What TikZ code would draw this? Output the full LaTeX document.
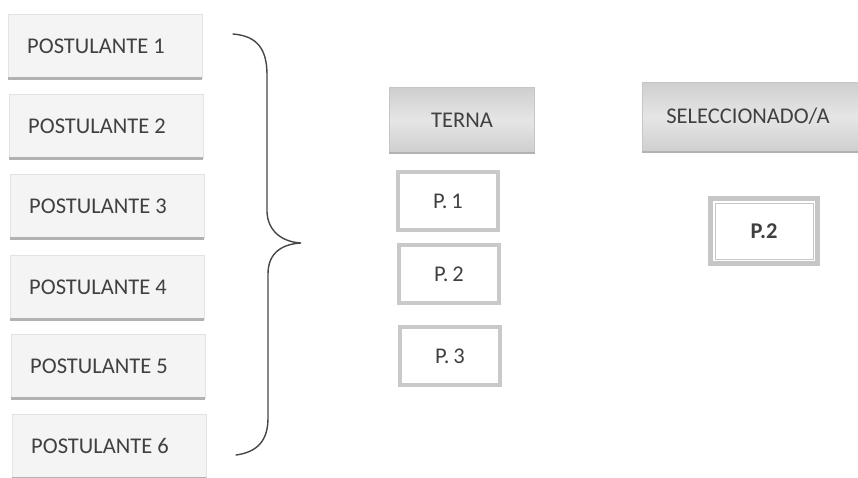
\documentclass[tikz,border=0pt]{standalone}
\usepackage{fontspec}
\setmainfont{Carlito}
\newcommand{\boxfont}{\fontsize{22.5}{26}\selectfont}
\begin{document}
\begin{tikzpicture}[x=1pt,y=-1pt,
  txt/.style={text=black!75},
  postbox/.style={txt, rectangle, draw=gray!22, fill=gray!9, line width=0.8,
    minimum width=194, minimum height=64, inner sep=0, font=\boxfont},
  headbox/.style={txt, rectangle, draw=gray!45, line width=0.8,
    top color=gray!38, bottom color=gray!38, middle color=gray!20,
    inner sep=0, font=\boxfont},
  pbox/.style={txt, rectangle, draw=gray!42, line width=4, fill=white,
    minimum width=100, minimum height=58, inner sep=0, font=\boxfont},
  shadowline/.style={gray!60, line width=2.2},
  bracestroke/.style={black!72, line width=1.4, line cap=round}]
\useasboundingbox (0,0) rectangle (858,477);

% candidate list (labels sit a little left of centre)
\node[postbox] (p1) at (105,46)  {POSTULANTE 1\hspace*{18pt}};
\node[postbox] (p2) at (106,126) {POSTULANTE 2\hspace*{18pt}};
\node[postbox] (p3) at (107,206) {POSTULANTE 3\hspace*{18pt}};
\node[postbox] (p4) at (107,287) {POSTULANTE 4\hspace*{18pt}};
\node[postbox] (p5) at (108,366) {POSTULANTE 5\hspace*{18pt}};
\node[postbox] (p6) at (109,446) {POSTULANTE 6\hspace*{18pt}};
\foreach \n in {p1,p2,p3,p4,p5,p6}
  \draw[shadowline] (\n.south west) -- (\n.south east);

% curly brace grouping the candidates
\coordinate (bt) at (233,34);
\coordinate (bb) at (236,455);
\coordinate (tip) at (301,243);
\draw[bracestroke] (bt) .. controls (258,36) and (267,50) .. (267,75)
  -- (267,212) .. controls (268,232) and (283,242) .. (tip)
  .. controls (283,244) and (268,252) .. (268,274)
  -- (268,418) .. controls (268,440) and (258,452) .. (bb);

% shortlist
\node[headbox, minimum width=145, minimum height=65] (terna) at (462,120) {TERNA};
\draw[shadowline] (terna.south west) -- (terna.south east);
\node[pbox] (t1) at (448,201) {P.\,1};
\node[pbox] (t2) at (449,274) {P.\,2};
\node[pbox] (t3) at (450,356) {P.\,3};

% selected candidate
\node[headbox, minimum width=222, minimum height=69, anchor=west] (sel) at (642,117) {};
\node[txt, font=\boxfont] (seltxt) at (748,116) {SELECCIONADO/A};
\draw[shadowline] (sel.south west) -- (sel.south east);
\node[txt, rectangle, draw=gray!45, line width=5, fill=white,
  minimum width=107, minimum height=65, inner sep=0,
  font=\bfseries\boxfont] (win) at (764,231) {P.2};
\draw[gray!45, line width=0.9] ([shift={(7,7)}]win.north west)
  rectangle ([shift={(-7,-7)}]win.south east);
\end{tikzpicture}
\end{document}
